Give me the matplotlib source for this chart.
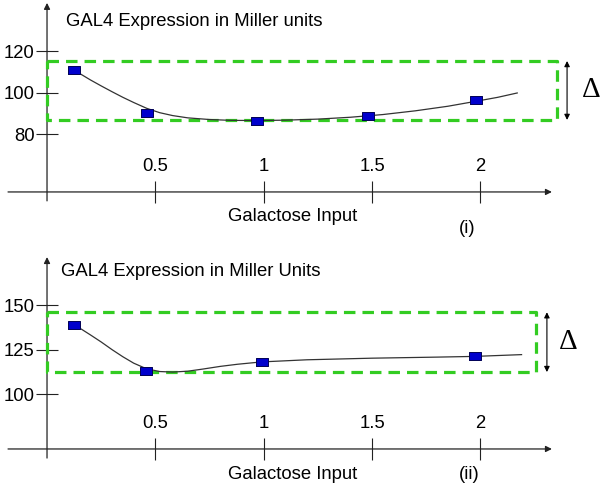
import matplotlib.pyplot as plt

# Panel (i) data
x1_pts = [0.125, 0.46, 0.97, 1.48, 1.98]
y1_pts = [111.0, 90.4, 86.6, 88.9, 96.4]
# fitted curve
x1_fit = [0.125, 0.16, 0.20, 0.25, 0.30, 0.35, 0.40, 0.46, 0.52, 0.58, 0.65, 0.75, 0.85, 0.97,
          1.10, 1.25, 1.40, 1.55, 1.70, 1.85, 1.98, 2.08, 2.17]
y1_fit = [111.0, 108.8, 106.3, 103.4, 100.6, 97.9, 95.4, 92.6, 90.5, 89.1, 88.0, 87.2, 86.8, 86.7,
          86.9, 87.4, 88.3, 89.6, 91.4, 93.6, 96.0, 97.9, 100.0]
box1 = (87.0, 115.4)

# Panel (ii) data
x2_pts = [0.125, 0.457, 0.99, 1.975]
y2_pts = [139.0, 113.4, 118.3, 121.5]
x2_fit = [0.125, 0.16, 0.20, 0.25, 0.30, 0.35, 0.40, 0.46, 0.52, 0.58, 0.65, 0.72, 0.80, 0.88,
          0.99, 1.20, 1.50, 1.80, 1.975, 2.19]
y2_fit = [139.0, 136.6, 133.5, 129.5, 125.2, 121.2, 117.6, 114.4, 112.9, 112.6, 113.1, 114.3, 115.8, 117.0,
          118.3, 119.5, 120.4, 121.0, 121.4, 122.4]
box2 = (112.6, 146.2)

xticks = [0.5, 1, 1.5, 2]
xtick_labels = ['0.5', '1', '1.5', '2']

GREEN = '#33cc22'
FS = 13.3
plt.rcParams['font.family'] = 'Liberation Sans'

fig = plt.figure(figsize=(6, 4.86), dpi=100)

rect_marker = [(-1, -0.7), (1, -0.7), (1, 0.7), (-1, 0.7), (-1, -0.7)]


def panel(ax, xp, yp, xf, yf, ylim, yticks, x_axis_y, y_axis_top, y_axis_bot,
          box, box_right, arrow_x, delta_x, title, title_pos, tag, tag_pos, label_y):
    ax.set_xlim(-0.217, 2.552)
    ax.set_ylim(*ylim)
    ax.patch.set_visible(False)
    for s in ax.spines.values():
        s.set_visible(False)
    ax.spines['left'].set_position(('data', 0))
    ax.spines['bottom'].set_position(('data', x_axis_y))

    # axis lines with arrowheads
    ax.annotate('', xy=(2.33, x_axis_y), xytext=(-0.18, x_axis_y),
                arrowprops=dict(arrowstyle='-|>', lw=0.9, color='#222222',
                                mutation_scale=9, shrinkA=0, shrinkB=0))
    ax.annotate('', xy=(0, y_axis_top), xytext=(0, y_axis_bot),
                arrowprops=dict(arrowstyle='-|>', lw=0.9, color='#222222',
                                mutation_scale=9, shrinkA=0, shrinkB=0))

    ax.set_xticks(xticks)
    ax.set_yticks(yticks)
    ax.tick_params(axis='both', direction='inout', length=16, width=0.8,
                   color='#222222', labelsize=FS)
    ax.tick_params(axis='x', labelbottom=False)
    ax.tick_params(axis='y', pad=1)
    for t, lab in zip(xticks, xtick_labels):
        ax.annotate(lab, xy=(t, x_axis_y), xytext=(0, 25), textcoords='offset pixels',
                    ha='center', va='center', fontsize=FS)

    # green dashed box
    ax.plot([0, box_right, box_right, 0, 0], [box[1], box[1], box[0], box[0], box[1]],
            color=GREEN, lw=2.3, dashes=(3.6, 2.2), zorder=3)

    # curve and points
    ax.plot(xf, yf, color='#333333', lw=0.9, zorder=4)
    ax.plot(xp, yp, linestyle='none', marker=rect_marker, markersize=8,
            markerfacecolor='#0000cc', markeredgecolor='#000055',
            markeredgewidth=0.7, zorder=5)

    # delta arrow
    ax.annotate('', xy=(arrow_x, box[1]), xytext=(arrow_x, box[0]),
                arrowprops=dict(arrowstyle='<|-|>', lw=0.8, color='black',
                                mutation_scale=8, shrinkA=0, shrinkB=0))
    ax.text(delta_x, (box[0] + box[1]) / 2, '\u0394', ha='center', va='center',
            fontsize=21, family='Liberation Serif')

    ax.text(title_pos[0], title_pos[1], title, transform=ax.transAxes,
            ha='left', va='center', fontsize=FS)
    ax.text(0.488, label_y, 'Galactose Input', transform=ax.transAxes,
            ha='center', va='center', fontsize=FS)
    ax.text(tag_pos[0], tag_pos[1], tag, transform=ax.transAxes,
            ha='center', va='center', fontsize=FS)


ax1 = fig.add_axes([0, 0.5, 1, 0.5])
panel(ax1, x1_pts, y1_pts, x1_fit, y1_fit, (27.7, 144.8), [80, 100, 120],
      52.3, 143.4, 48.0, box1, 2.353, 2.40, 2.51,
      'GAL4 Expression in Miller units', (0.11, 0.912), '(i)', (0.778, 0.06), 0.107)

ax2 = fig.add_axes([0, 0, 1, 0.5])
panel(ax2, x2_pts, y2_pts, x2_fit, y2_fit, (48.6, 185.1), [100, 125, 150],
      69.4, 177.2, 64.3, box2, 2.257, 2.307, 2.404,
      'GAL4 Expression in Miller Units', (0.102, 0.881), '(ii)', (0.782, 0.049), 0.049)

fig.savefig('out.png', dpi=100)
